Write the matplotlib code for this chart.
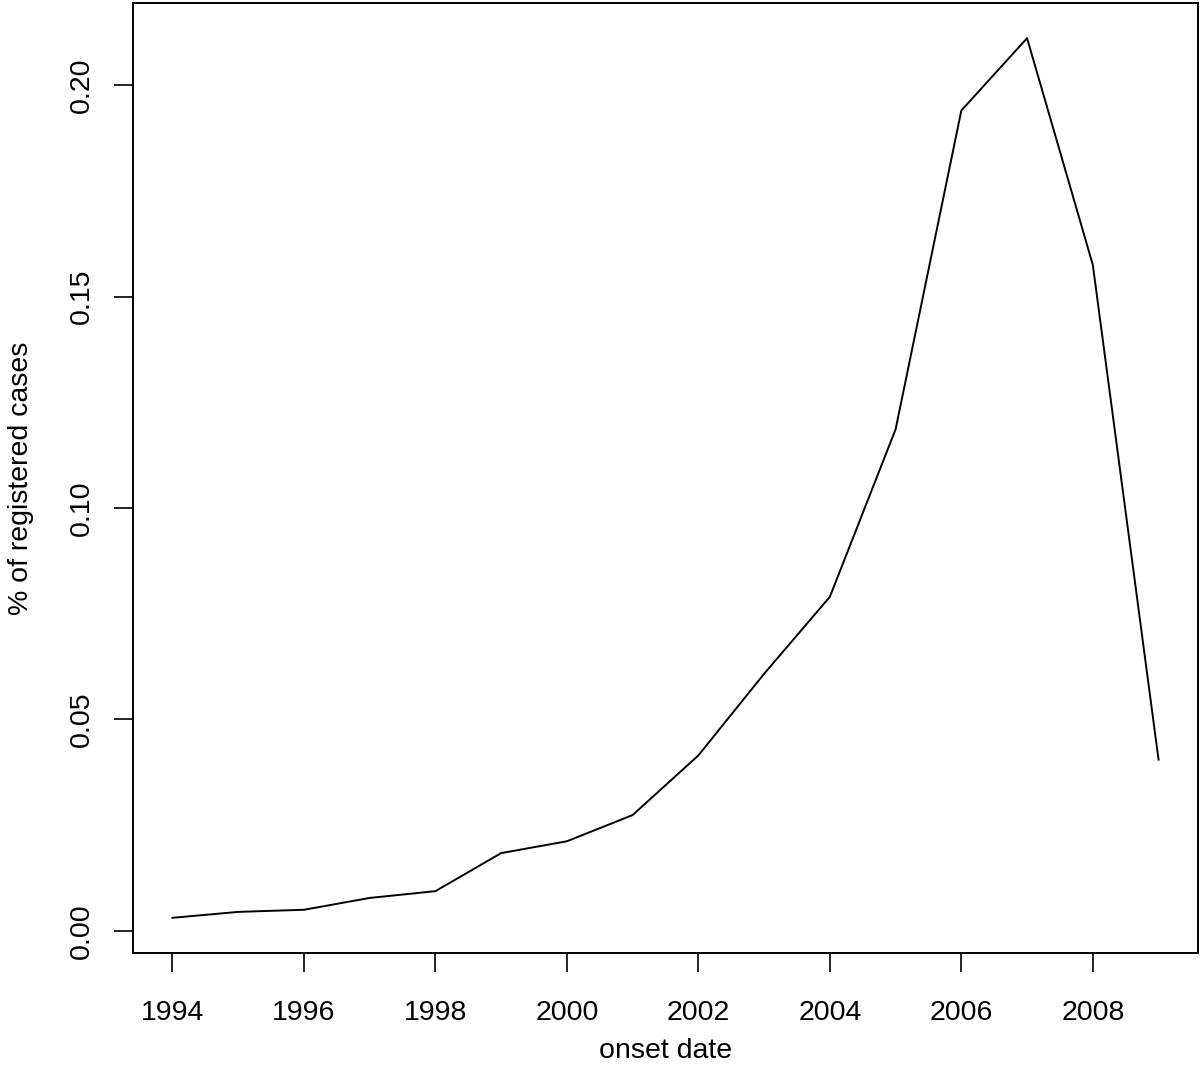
import matplotlib
matplotlib.use("Agg")
import matplotlib.pyplot as plt

years = [1994, 1995, 1996, 1997, 1998, 1999, 2000, 2001, 2002, 2003, 2004, 2005, 2006, 2007, 2008, 2009]
pct_cases = [0.0031, 0.0045, 0.0050, 0.0078, 0.0094, 0.0184, 0.0212, 0.0274, 0.0415, 0.0608,
             0.0790, 0.1186, 0.1940, 0.2111, 0.1575, 0.0405]
x_ticks = [1994, 1996, 1998, 2000, 2002, 2004, 2006, 2008]
y_ticks = [0.00, 0.05, 0.10, 0.15, 0.20]
y_tick_labels = ["0.00", "0.05", "0.10", "0.15", "0.20"]

plt.rcParams['font.family'] = ['Liberation Sans', 'DejaVu Sans']

fig = plt.figure(figsize=(12, 10.67), dpi=100)
ax = fig.add_axes([133/1200, 1 - 953/1067, (1198-133)/1200, (953-3)/1067])

ax.plot(years, pct_cases, color='black', linewidth=1.4)

xr = max(years) - min(years)
ax.set_xlim(min(years) - 0.04*xr, max(years) + 0.04*xr)
yr = max(pct_cases) - min(pct_cases)
ax.set_ylim(min(pct_cases) - 0.04*yr, max(pct_cases) + 0.04*yr)

ax.set_xticks(x_ticks)
ax.set_xticklabels([str(t) for t in x_ticks])
ax.set_yticks(y_ticks)
ax.set_yticklabels(y_tick_labels, rotation=90, va='center')

ax.tick_params(axis='both', direction='out', length=13.5, width=1.2, labelsize=20.5)
ax.tick_params(axis='x', pad=20)
ax.tick_params(axis='y', pad=14)
for s in ax.spines.values():
    s.set_linewidth(1.4)

ax.set_xlabel("onset date", fontsize=20.5, labelpad=9)
ax.set_ylabel("% of registered cases", fontsize=20.5, labelpad=25)

fig.savefig("out.png", dpi=100)
